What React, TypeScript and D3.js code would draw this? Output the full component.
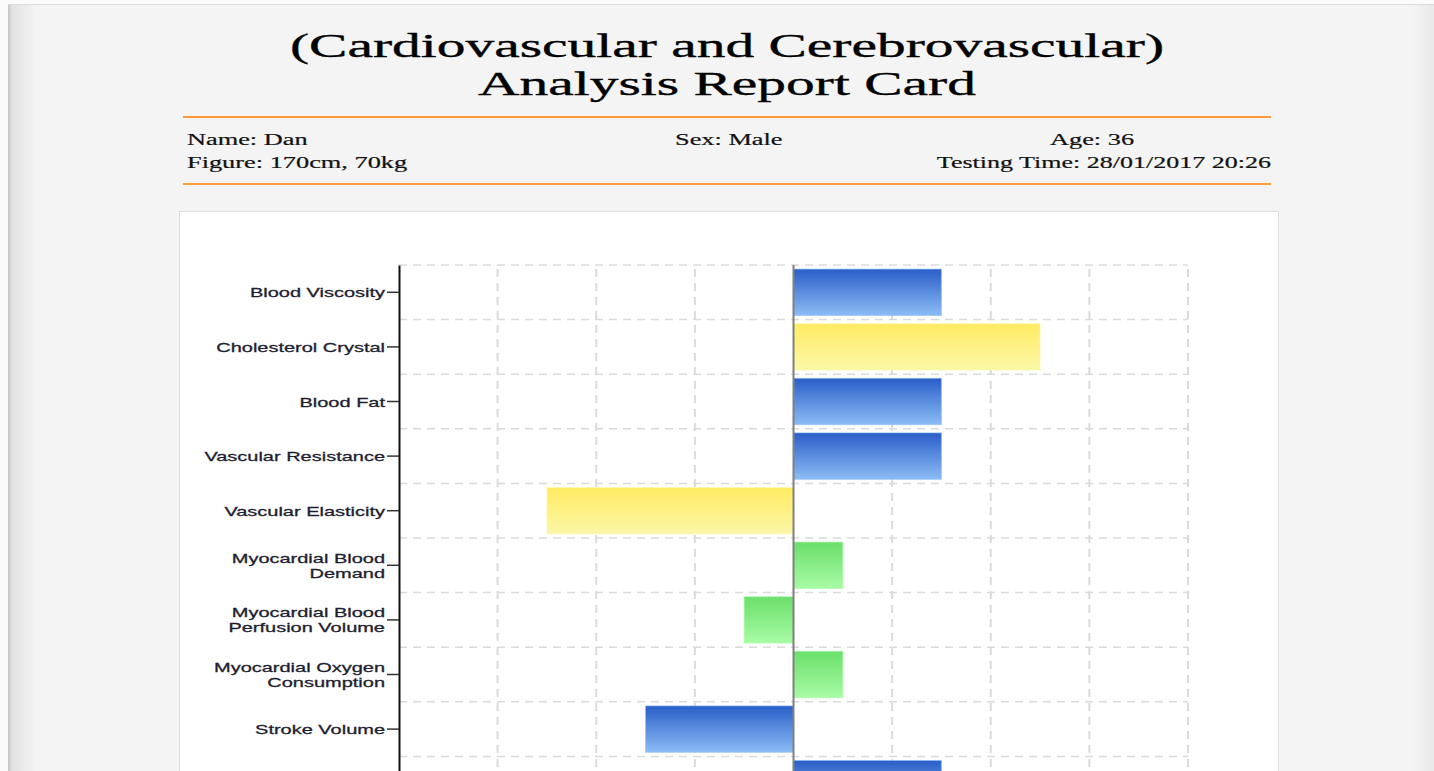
import React, { useEffect, useRef } from 'react';
import * as d3 from 'd3';

// rows of the report, top to bottom ("\n" marks a wrapped label)
const categories: string[] = [
  'Blood Viscosity',
  'Cholesterol Crystal',
  'Blood Fat',
  'Vascular Resistance',
  'Vascular Elasticity',
  'Myocardial Blood\nDemand',
  'Myocardial Blood\nPerfusion Volume',
  'Myocardial Oxygen\nConsumption',
  'Stroke Volume',
  'Left Ventricular Ejection\nFraction',
];

// deviation from normal for each row
const values: number[] = [1.5, 2.5, 1.5, 1.5, -2.5, 0.5, -0.5, 0.5, -1.5, 1.5];

const xTicks: number[] = [-4, -3, -2, -1, 0, 1, 2, 3, 4];

const titleLines: string[] = ['(Cardiovascular and Cerebrovascular)', 'Analysis Report Card'];

const patient = {
  name: 'Name: Dan',
  sex: 'Sex: Male',
  age: 'Age: 36',
  figure: 'Figure: 170cm, 70kg',
  time: 'Testing Time: 28/01/2017 20:26',
};

// [top, bottom] gradient stops per level
const levelColours: Record<string, [string, string]> = {
  green: ['#6bdf6b', '#a8fba4'],
  blue: ['#2a5ec8', '#8cbcf6'],
  yellow: ['#ffeb62', '#fbf7a8'],
};

const W = 1434;
const H = 771;
const SERIF = '"Liberation Serif", "Times New Roman", serif';
const SANS = '"Liberation Sans", Arial, sans-serif';

const App = () => {
  const ref = useRef<SVGSVGElement | null>(null);

  useEffect(() => {
    const svg = d3.select(ref.current);
    svg.selectAll('*').remove();

    const defs = svg.append('defs');

    // page edges
    const leftShade = defs.append('linearGradient').attr('id', 'leftShade');
    leftShade.append('stop').attr('offset', '0%').attr('stop-color', '#c4c4c4');
    leftShade.append('stop').attr('offset', '15%').attr('stop-color', '#e2e2e2');
    leftShade.append('stop').attr('offset', '100%').attr('stop-color', '#f4f4f4');
    const rightShade = defs.append('linearGradient').attr('id', 'rightShade');
    rightShade.append('stop').attr('offset', '0%').attr('stop-color', '#f4f4f4');
    rightShade.append('stop').attr('offset', '100%').attr('stop-color', '#e9e9e9');

    Object.entries(levelColours).forEach(([k, [top, bottom]]) => {
      const g = defs.append('linearGradient').attr('id', `bar-${k}`)
        .attr('x1', 0).attr('y1', 0).attr('x2', 0).attr('y2', 1);
      g.append('stop').attr('offset', '0%').attr('stop-color', top);
      g.append('stop').attr('offset', '100%').attr('stop-color', bottom);
    });

    svg.append('rect').attr('width', W).attr('height', H).attr('fill', '#fbfbfb');
    svg.append('rect').attr('x', 8).attr('y', 5).attr('width', W - 8).attr('height', H)
      .attr('fill', '#f4f4f4');
    svg.append('line').attr('x1', 8).attr('x2', W).attr('y1', 4.5).attr('y2', 4.5)
      .attr('stroke', '#dcdcdc');
    svg.append('rect').attr('x', 8).attr('y', 5).attr('width', 28).attr('height', H)
      .attr('fill', 'url(#leftShade)');
    svg.append('rect').attr('x', 1412).attr('y', 5).attr('width', 22).attr('height', H)
      .attr('fill', 'url(#rightShade)');

    // stretched text helper (the report renders its fonts wide)
    const stretchText = (parent: any, x: number, y: number, sx: number, txt: string) =>
      parent.append('text')
        .attr('transform', `translate(${x},${y}) scale(${sx},1)`)
        .text(txt);

    // title
    const title = svg.append('g')
      .attr('font-family', SERIF).attr('font-size', 34).attr('fill', '#000')
      .attr('stroke', '#000').attr('stroke-width', 0.35)
      .attr('text-anchor', 'middle');
    titleLines.forEach((t, i) => stretchText(title, 727, 57 + i * 38, 1.69, t));

    // header lines
    [117, 184].forEach((y) => {
      svg.append('line').attr('x1', 183).attr('x2', 1271).attr('y1', y).attr('y2', y)
        .attr('stroke', '#ff9a3a').attr('stroke-width', 2);
    });

    const info = svg.append('g')
      .attr('font-family', SERIF).attr('font-size', 17).attr('fill', '#111')
      .attr('stroke', '#111').attr('stroke-width', 0.2);
    stretchText(info, 187, 145, 1.55, patient.name);
    stretchText(info, 187, 168, 1.55, patient.figure);
    stretchText(info, 675, 145, 1.55, patient.sex);
    stretchText(info, 1050, 145, 1.55, patient.age);
    stretchText(info, 1271, 168, 1.53, patient.time).attr('text-anchor', 'end');

    // chart panel
    svg.append('rect').attr('x', 179.5).attr('y', 211.5).attr('width', 1099).attr('height', 700)
      .attr('fill', '#fff').attr('stroke', '#dedede');

    const left = 399;
    const right = 1188;
    const top = 265;
    const step = 54.6;

    const x = d3.scaleLinear().domain([-4, 4]).range([left, right]);
    const y = d3.scaleBand<string>()
      .domain(categories)
      .range([top, top + step * categories.length])
      .padding(0);

    const level = d3.scaleThreshold<number, string>()
      .domain([1, 2])
      .range(['green', 'blue', 'yellow']);

    const chart = svg.append('g');

    // grid
    const grid = chart.append('g')
      .attr('stroke', '#dadada').attr('stroke-dasharray', '8,6').attr('fill', 'none');
    const rowEdges = [...categories.map((c) => y(c) as number), y.range()[1]];
    grid.selectAll('line.h').data(rowEdges).enter().append('line')
      .attr('class', 'h')
      .attr('x1', left).attr('x2', right)
      .attr('y1', (d) => d).attr('y2', (d) => d)
      .attr('stroke-width', 1.5);
    grid.selectAll('line.v').data(xTicks.filter((t) => t !== -4 && t !== 0)).enter().append('line')
      .attr('class', 'v')
      .attr('x1', (d) => x(d)).attr('x2', (d) => x(d))
      .attr('y1', top + 4).attr('y2', H)
      .attr('stroke-width', 2);

    // bars
    const inset = y.step() * 0.075;
    chart.selectAll('rect.bar').data(values).enter().append('rect')
      .attr('class', 'bar')
      .attr('x', (d) => x(Math.min(0, d)))
      .attr('y', (d, i) => (y(categories[i]) as number) + inset)
      .attr('width', (d) => Math.abs(x(d) - x(0)))
      .attr('height', y.step() - 2 * inset)
      .attr('fill', (d) => `url(#bar-${level(Math.abs(d))})`)
      .attr('stroke', (d) => levelColours[level(Math.abs(d))][1])
      .attr('stroke-opacity', 0.6)
      .attr('stroke-width', 1);

    // zero line
    chart.append('line')
      .attr('x1', x(0)).attr('x2', x(0)).attr('y1', top).attr('y2', H)
      .attr('stroke', '#808080').attr('stroke-width', 2);

    // y axis
    const axis = chart.append('g')
      .attr('transform', `translate(${left},0)`)
      .call(d3.axisLeft(y).tickSize(12).tickSizeOuter(0).tickFormat(() => ''));
    axis.select('.domain').attr('stroke', '#111').attr('stroke-width', 2);
    axis.selectAll('.tick line').attr('stroke', '#333').attr('stroke-width', 1.5);

    const labels = chart.append('g')
      .attr('font-family', SANS).attr('font-size', 13.5).attr('fill', '#1e1e30')
      .attr('stroke', '#1e1e30').attr('stroke-width', 0.3)
      .attr('text-anchor', 'end');
    categories.forEach((c) => {
      const lines = c.split('\n');
      const cy = (y(c) as number) + y.bandwidth() / 2;
      lines.forEach((ln, j) => {
        const off = (j - (lines.length - 1) / 2) * 15;
        stretchText(labels, 385, cy + off + 5, 1.48, ln);
      });
    });
  }, []);

  return (
    <div style={{ position: 'absolute', left: 0, top: 0, width: W, height: H, overflow: 'hidden' }}>
      <svg ref={ref} width={W} height={H} style={{ display: 'block' }} />
    </div>
  );
};

export default App;
